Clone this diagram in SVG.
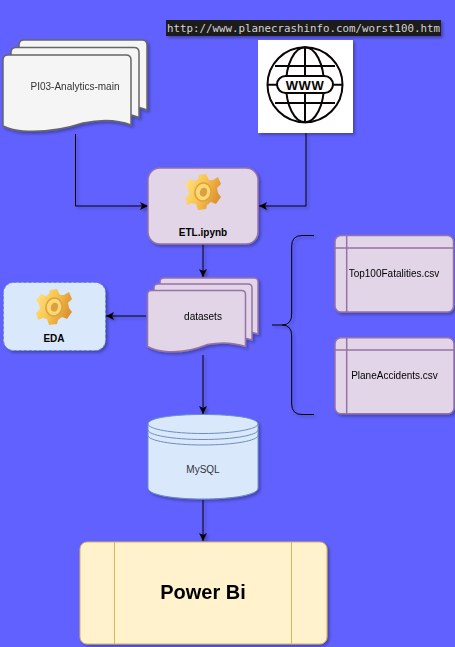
<svg xmlns="http://www.w3.org/2000/svg" xmlns:xlink="http://www.w3.org/1999/xlink" width="455" height="647" viewBox="0 0 455 647">
<style>
text{font-family:"Liberation Sans",Arial,sans-serif;font-size:10px;text-anchor:middle;fill:#000}
.grey{fill:#333}
.note{fill:#f5f5f5;stroke:#666;stroke-width:1.5}
.purple{fill:#e1d5e7;stroke:#9673a6;stroke-width:1.5}
.blue{fill:#dae8fc;stroke:#6c8ebf;stroke-width:1}
.line{fill:none;stroke:#000;stroke-width:1;marker-end:url(#arrow)}
.div{fill:none;stroke:#9673a6;stroke-width:1.5}
.globe{fill:none;stroke:#0a0505;stroke-width:2}
</style>
<defs>
<filter id="sh" x="-20%" y="-20%" width="150%" height="150%"><feDropShadow dx="2" dy="2" stdDeviation="1.4" flood-color="#000" flood-opacity="0.3"/></filter>
<marker id="arrow" markerUnits="userSpaceOnUse" markerWidth="10" markerHeight="10" refX="8" refY="4.500" orient="auto"><path d="M0 0.500L8 4.500L0 8.500L2 4.500Z" fill="#000"/></marker>
<linearGradient id="gold" x1="0" y1="0" x2="1" y2="0.4"><stop offset="0" stop-color="#ffe588"/><stop offset="0.55" stop-color="#f7c44f"/><stop offset="1" stop-color="#df9433"/></linearGradient>
<symbol id="gear" viewBox="-18 -18 36 36" overflow="visible">
<path fill="url(#gold)" d="M-4-17L3-18L6-12L10-12L15-15L18-8L14-4L15 1L18 5L13 12L8 10L4 13L3 17L-5 18L-7 12L-11 11L-16 13L-18 6L-14 2L-15-3L-18-7L-13-13L-8-11L-5-13Z"/>
<ellipse cx="0" cy="0" rx="8" ry="9" fill="#fad872" stroke="#e0a040" stroke-width="1.500" transform="rotate(15)"/>
<ellipse cx="0.500" cy="0" rx="3.500" ry="4.500" fill="#dba044" transform="rotate(15)"/>
</symbol>
<path id="doc" d="M0 5Q0 0 5 0H123Q128 0 128 5V70Q108 62 80 68Q50 78 20 76Q8 75 0 71Z"/>
<path id="doc2" d="M0 4Q0 0 4 0H94Q98 0 98 4V56Q80 50 60 54Q38 63 18 61Q7 60 0 56Z"/>
</defs>
<rect width="455" height="647" fill="#6161ff"/>
<g id="connectors" filter="url(#sh)">
<path class="line" d="M75.500 134V206H148"/>
<path class="line" d="M306 133V206H259"/>
<path class="line" d="M203 244V277"/>
<path class="line" d="M146 316H106"/>
<path class="line" d="M203 355V414"/>
<path class="line" d="M203 500V541"/>
<path id="brace" d="M314 235.500H302Q291.700 235.500 291.700 246V314Q291.700 325 282 325H272M282 325Q291.700 325 291.700 336V404Q291.700 414.500 302 414.500H314" fill="none" stroke="#000" stroke-width="1"/>
</g>
<g id="url">
<rect x="166" y="20" width="275" height="16" fill="#1e1e1e" filter="url(#sh)"/>
<text x="303.500" y="32" textLength="273" lengthAdjust="spacingAndGlyphs" style="font-family:'DejaVu Sans Mono','Liberation Mono',monospace;font-size:11px;fill:#d4d4d4">http://www.planecrashinfo.com/worst100.htm</text>
</g>
<g id="node-source" filter="url(#sh)">
<use href="#doc" x="19" y="40" class="note"/>
<use href="#doc" x="11" y="47.500" class="note"/>
<use href="#doc" x="3" y="55" class="note"/>
<text x="75" y="90" class="grey">PI03-Analytics-main</text>
</g>
<g id="node-web">
<rect x="258" y="40" width="95" height="93" fill="#fff" filter="url(#sh)"/>
<circle cx="305" cy="84.700" r="37.500" class="globe"/>
<ellipse cx="305" cy="84.700" rx="19" ry="37.500" class="globe"/>
<path class="globe" d="M305 47.500V76M305 93V122M275 66H335M275 103H335M268 84.700H277M333 84.700H342"/>
<rect x="277" y="76" width="56" height="17" rx="8.500" fill="#fff" stroke="#0a0505" stroke-width="2"/>
<text x="305" y="89.500" style="font-size:13px;font-weight:bold;fill:#0a0505;letter-spacing:0.500px">WWW</text>
</g>
<g id="node-etl">
<rect x="148" y="168" width="110" height="76" rx="12" class="purple" filter="url(#sh)"/>
<use href="#gear" x="185" y="174" width="36" height="36"/>
<text x="203" y="236" style="font-weight:bold">ETL.ipynb</text>
</g>
<g id="node-datasets" filter="url(#sh)">
<use href="#doc2" x="160" y="278" class="purple"/>
<use href="#doc2" x="154" y="284" class="purple"/>
<use href="#doc2" x="147.500" y="290.500" class="purple"/>
<text x="203" y="320">datasets</text>
</g>
<g id="node-eda">
<rect x="3.500" y="282.500" width="102" height="68" rx="10" class="blue" stroke-dasharray="3 2" filter="url(#sh)"/>
<use href="#gear" x="36" y="289" width="36" height="36"/>
<text x="54" y="342" style="font-weight:bold">EDA</text>
</g>
<g id="node-top100" filter="url(#sh)">
<rect x="335" y="235.500" width="118.500" height="76.500" rx="6" class="purple"/>
<path class="div" d="M335 248H453.500M346.700 235.500V312"/>
<text x="394" y="277">Top100Fatalities.csv</text>
</g>
<g id="node-accidents" filter="url(#sh)">
<rect x="335" y="337.700" width="119" height="76" rx="6" class="purple"/>
<path class="div" d="M335 350H454M346.700 337.700V413.700"/>
<text x="394.500" y="378.500">PlaneAccidents.csv</text>
</g>
<g id="node-mysql">
<path class="blue" filter="url(#sh)" d="M148 424C148 418 172 414.500 203 414.500S258 418 258 424V488C258 495 232 499 203 499S148 495 148 488Z"/>
<path fill="none" stroke="#6c8ebf" d="M148 424C148 429 172 433.500 203 433.500S258 429 258 424M148 430C148 435 172 439.500 203 439.500S258 435 258 430M148 435.500C148 440.500 172 445 203 445S258 440.500 258 435.500"/>
<text x="203" y="473" class="grey">MySQL</text>
</g>
<g id="node-powerbi" filter="url(#sh)">
<rect x="80" y="542" width="247" height="102" rx="7" fill="#fff2cc" stroke="#d6b656" stroke-width="1"/>
<path fill="none" stroke="#d6b656" d="M114.500 542V644M291.500 542V644"/>
<text x="203" y="599" style="font-size:20px;font-weight:bold">Power Bi</text>
</g>
</svg>
